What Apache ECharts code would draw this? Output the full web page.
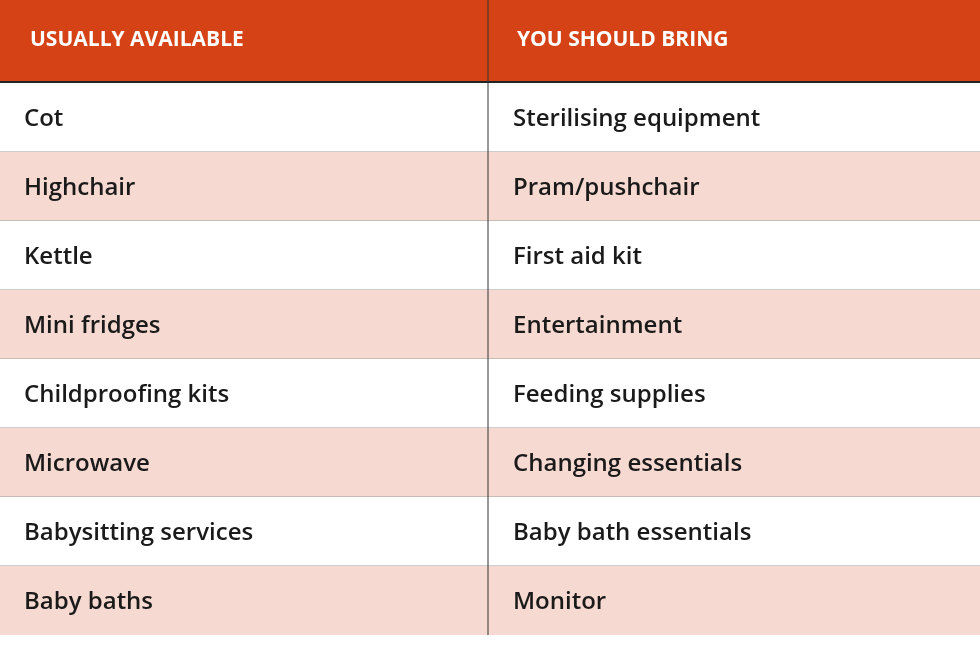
<!DOCTYPE html>
<html><head><meta charset="utf-8">
<script src="https://cdn.jsdelivr.net/npm/echarts@6/dist/echarts.min.js"></script>
<style>html,body{margin:0;padding:0;background:#fff}#c{width:980px;height:645px}</style>
</head><body><div id="c"></div>
<script>
const headers = ['USUALLY AVAILABLE', 'YOU SHOULD BRING'];
const availableItems = ['Cot','Highchair','Kettle','Mini fridges','Childproofing kits','Microwave','Babysitting services','Baby baths'];
const bringItems = ['Sterilising equipment','Pram/pushchair','First aid kit','Entertainment','Feeding supplies','Changing essentials','Baby bath essentials','Monitor'];
const rowIds = availableItems.map((_, i) => String(i));

const data = [];
availableItems.forEach((t, i) => data.push([0, String(i), t]));
bringItems.forEach((t, i) => data.push([1, String(i), t]));

const FONT = '"Open Sans","Noto Sans",sans-serif';
const chart = echarts.init(document.getElementById('c'));
chart.setOption({
  animation: false,
  grid: {left: 0, right: 0, top: 83, bottom: 10},
  xAxis: {type: 'value', min: 0, max: 2, show: false},
  yAxis: {type: 'category', data: rowIds, inverse: true, show: false},
  graphic: [
    {type: 'rect', shape: {x: 0, y: 0, width: 980, height: 82}, style: {fill: '#D54215'}, z: 10},
    {type: 'text', left: 30, top: 30, style: {text: headers[0], fill: '#fff', font: 'bold 21px ' + FONT}, z: 11},
    {type: 'text', left: 517, top: 30, style: {text: headers[1], fill: '#fff', font: 'bold 21px ' + FONT}, z: 11},
    {type: 'line', shape: {x1: 0, y1: 82, x2: 980, y2: 82}, style: {stroke: '#222', lineWidth: 2}, z: 12},
    {type: 'line', shape: {x1: 488, y1: 0, x2: 488, y2: 635}, style: {stroke: '#333', lineWidth: 1}, z: 12}
  ],
  series: [{
    type: 'custom',
    data: data,
    encode: {x: 0, y: 1},
    renderItem: function (params, api) {
      const col = api.value(0);
      const row = params.dataIndex % availableItems.length;
      const start = api.coord([col, rowIds[row]]);
      const size = api.size([1, 1]);
      const h = size[1], w = size[0];
      const x = start[0], y = start[1] - h / 2;
      return {
        type: 'group',
        children: [
          {type: 'rect', shape: {x: x, y: y, width: w, height: h},
           style: {fill: row % 2 === 1 ? '#F6D9D0' : '#ffffff'}},
          {type: 'line', shape: {x1: x, y1: y + h, x2: x + w, y2: y + h},
           style: {stroke: row === availableItems.length - 1 ? 'transparent' : '#9a9a9a', lineWidth: 1}},
          {type: 'text', x: x + (col === 0 ? 24 : 23), y: y + h / 2 + 2,
           style: {text: api.value(2), fill: '#1a1a1a', font: '600 24px ' + FONT, verticalAlign: 'middle'}}
        ]
      };
    }
  }]
});
</script></body></html>
